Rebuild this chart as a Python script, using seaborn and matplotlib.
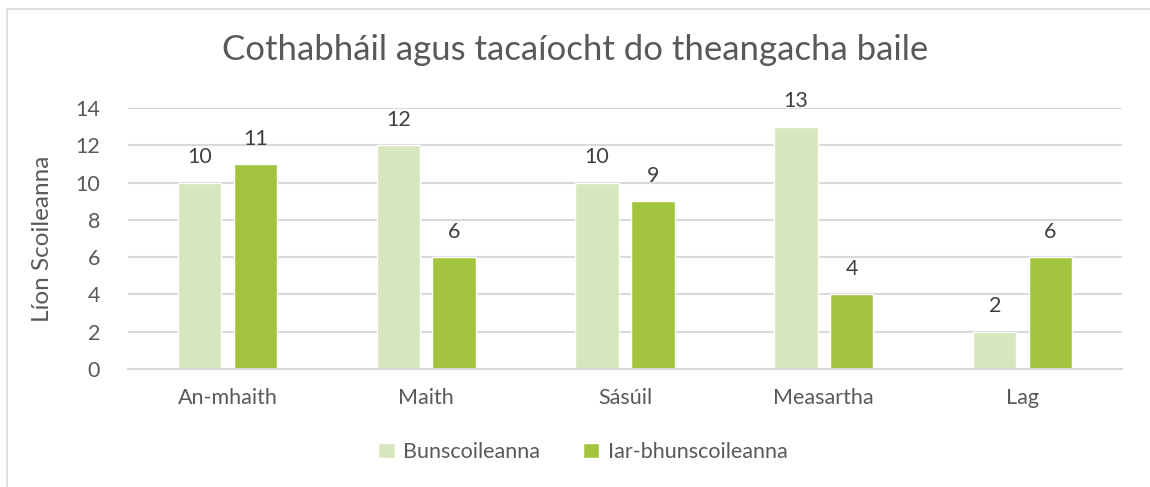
import pandas as pd
import matplotlib.pyplot as plt
import seaborn as sns
from matplotlib.patches import Rectangle

# Data
categories = ["An-mhaith", "Maith", "Sásúil", "Measartha", "Lag"]
bunscoileanna = [10, 12, 10, 13, 2]
iar_bhunscoileanna = [11, 6, 9, 4, 6]
series_names = ["Bunscoileanna", "Iar-bhunscoileanna"]
colors = ["#D7E6BC", "#A2C43E"]
y_ticks = [0, 2, 4, 6, 8, 10, 12, 14]

df = pd.DataFrame({
    "category": categories * 2,
    "series": [series_names[0]] * len(categories) + [series_names[1]] * len(categories),
    "value": bunscoileanna + iar_bhunscoileanna,
})

sns.set_style("white")
plt.rcParams["font.family"] = ["Lato", "DejaVu Sans"]
text_color = "#595959"
grid_color = "#D9D9D9"

fig = plt.figure(figsize=(11.5, 4.87), dpi=100)
ax = fig.add_axes([0.1113, 0.2423, 0.8643, 0.5359])

sns.barplot(
    data=df, x="category", y="value", hue="series",
    palette=colors, width=0.56, gap=0.22, ax=ax,
    saturation=1, legend=True,
)

# Value labels
for container in ax.containers:
    ax.bar_label(container, padding=11, fontsize=15.5, color="#404040")

ax.set_ylim(0, 14)
ax.set_xlim(-0.5, 4.5)
ax.set_yticks(y_ticks)
ax.yaxis.grid(True, color=grid_color, linewidth=1.5)
ax.set_axisbelow(True)
for side in ["top", "right", "left"]:
    ax.spines[side].set_visible(False)
ax.spines["bottom"].set_color(grid_color)
ax.spines["bottom"].set_linewidth(1.5)
ax.tick_params(axis="both", length=0, labelsize=15.5, labelcolor=text_color)
ax.tick_params(axis="x", pad=14)
ax.tick_params(axis="y", pad=20)
ax.set_xlabel("")
ax.set_ylabel("Líon Scoileanna", fontsize=17.5, color=text_color, labelpad=16)

fig.text(0.5, 0.897, "Cothabháil agus tacaíocht do theangacha baile",
         ha="center", va="center", fontsize=25, color=text_color)

handles, labels = ax.get_legend_handles_labels()
ax.legend_.remove()
fig.legend(handles, labels, loc="center", bbox_to_anchor=(0.507, 0.072), ncol=2,
           frameon=False, fontsize=15.5, labelcolor=text_color,
           handlelength=0.75, handleheight=0.75, handletextpad=0.4, columnspacing=2.0)

# Chart border
fig.patches.append(Rectangle((7 / 1150, -0.1), 1.2, 0.9815 + 0.1, transform=fig.transFigure,
                             fill=False, edgecolor=grid_color, linewidth=1.2))

fig.savefig("out.png", dpi=100)
